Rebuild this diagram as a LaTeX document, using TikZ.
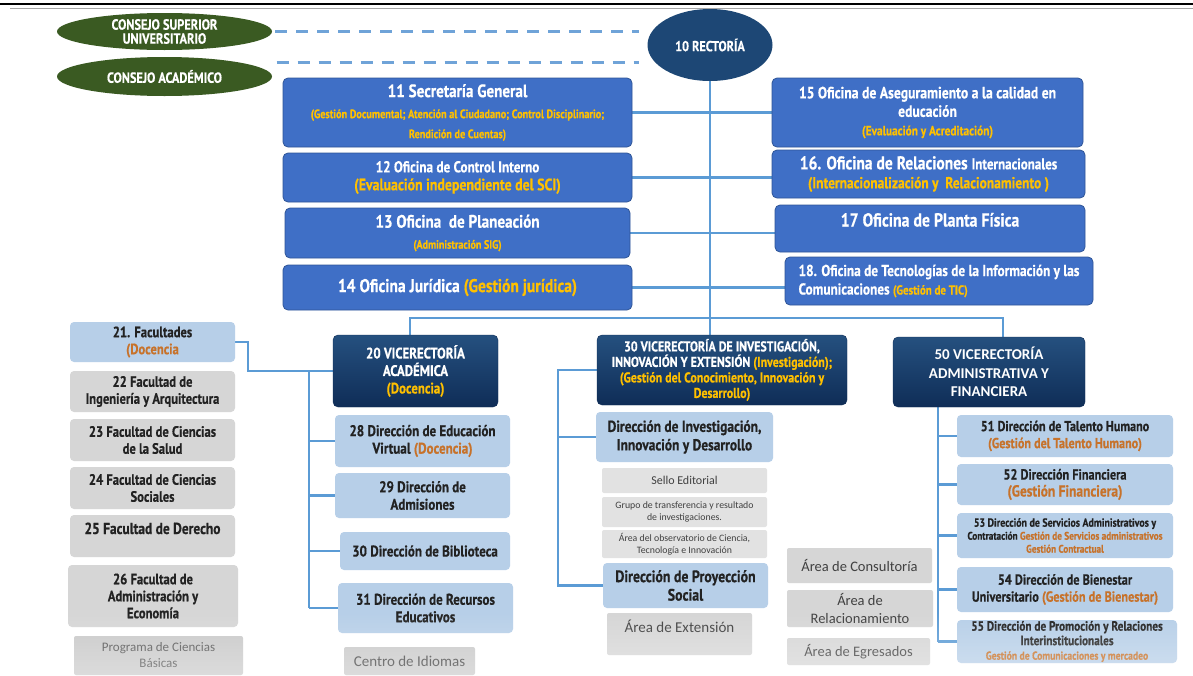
\documentclass[tikz,border=0pt]{standalone}
\usepackage{fontspec}
\setmainfont{PT Sans}
\newfontfamily\cf{PT Sans}[FakeStretch=0.84, BoldFeatures={FakeBold=0.5}]
\newfontfamily\calfont{Carlito}
\usetikzlibrary{shapes.geometric,fadings}
\newcommand{\fsz}[2]{\fontsize{#1}{#2}\selectfont}
\definecolor{ublue}{HTML}{3F6FC6}
\definecolor{ubluedk}{HTML}{2F5597}
\definecolor{navyt}{HTML}{25507F}
\definecolor{navyb}{HTML}{0F2D57}
\definecolor{navyR}{HTML}{1D4775}
\definecolor{lblue}{HTML}{B7CFE8}
\definecolor{gray1}{HTML}{D6D6D6}
\definecolor{gray2}{HTML}{E2E2E2}
\definecolor{gray3}{HTML}{C9C9C9}
\definecolor{dtext}{HTML}{222222}
\definecolor{ctext}{HTML}{404040}
\definecolor{olivec}{HTML}{3A5A22}
\definecolor{conn}{HTML}{5B9BD5}
\definecolor{conn2}{HTML}{6FA3D8}
\definecolor{yel}{HTML}{FFC000}
\definecolor{org}{HTML}{C7722A}
\pgfdeclarelayer{bg}
\pgfsetlayers{bg,main}
\tikzfading[name=fadeup, top color=transparent!100, bottom color=transparent!0]
\begin{document}
\begin{tikzpicture}[x=1pt,y=-1pt,
  wh/.style 2 args={minimum width=#1pt, minimum height=#2pt},
  ub/.style={rectangle, rounded corners=5pt, fill=ublue, draw=ubluedk, line width=0.8pt, text=white, align=center, inner sep=1pt, font=\cf\bfseries\fsz{15}{17}},
  nv/.style={rectangle, rounded corners=5pt, top color=navyt, bottom color=navyb, draw=navyb, text=white, align=center, inner sep=1pt, font=\cf\bfseries\fsz{12.5}{14.5}},
  lb/.style={rectangle, rounded corners=4pt, fill=lblue, text=dtext, align=center, inner sep=1pt, font=\cf\bfseries\fsz{15.5}{17.5}},
  gb/.style={rectangle, rounded corners=4pt, fill=gray1, text=dtext, align=center, inner sep=1pt, font=\cf\bfseries\fsz{15}{17}},
  lg/.style={rectangle, rounded corners=2pt, fill=gray2, text=ctext, align=center, inner sep=1pt, font=\calfont\fsz{14.5}{17}},
  el/.style={ellipse, fill=olivec, text=white, align=center, inner sep=0pt, font=\cf\bfseries\fsz{14.7}{14}},
  con/.style={draw=conn, line width=2.3pt},
  dsh/.style={draw=conn2, line width=2.5pt, dash pattern=on 12pt off 9pt},
]
\useasboundingbox (0,0) rectangle (1193,675);
\begin{pgfonlayer}{bg}
\fill[white] (0,0) rectangle (1193,675);
\end{pgfonlayer}
\draw[line width=2.5pt] (0,4) -- (1193,4);
\draw[gray!70, line width=0.8pt] (10,8) -- (1193,8);

\coordinate (busL) at (410,318);
\coordinate (busR) at (1003,318);
\coordinate (vA) at (309,0);
\coordinate (vB) at (558,0);
\coordinate (vC) at (938,0);

% ellipses
\node[el, wh={215}{37}] (eCSU) at (164.5,31.5) {CONSEJO SUPERIOR\\UNIVERSITARIO};
\node[el, wh={215}{39}] (eCA) at (164.5,76.5) {CONSEJO ACADÉMICO};
\node[el, fill=navyR, wh={125}{72}, font=\cf\bfseries\fsz{14.5}{16}] (eR) at (710,45) {10 RECTORÍA};

% upper left
\node[ub, wh={349}{69}, font=\cf\bfseries\fsz{18}{20}] (n11) at (457.5,112.5) {11 Secretaría General\\[1pt]{\fsz{12.2}{14}\textcolor{yel}{(Gestión Documental; Atención al Ciudadano; Control Disciplinario;}}\\{\fsz{12.2}{14}\textcolor{yel}{Rendición de Cuentas)}}};
\node[ub, wh={349}{49}, font=\cf\bfseries\fsz{15.7}{18}] (n12) at (457.5,177.5) {12 Oficina de Control Interno\\{\fsz{16.5}{18}\textcolor{yel}{(Evaluación independiente del SCI)}}};
\node[ub, wh={345}{50}, font=\cf\bfseries\fsz{18}{19}] (n13) at (457.5,233) {13 Oficina ~de Planeación\\[2pt]{\fsz{12}{13}\textcolor{yel}{(Administración SIG)}}};
\node[ub, wh={349}{45}, font=\cf\bfseries\fsz{18.5}{20}] (n14) at (457.5,287.5) {14 Oficina Jurídica \textcolor{yel}{(Gestión jurídica)}};

% upper right
\node[ub, wh={311}{69}, font=\cf\bfseries\fsz{16.3}{18.5}] (n15) at (927.5,112.5) {15 Oficina de Aseguramiento a la calidad en\\educación\\{\fsz{13.5}{15}\textcolor{yel}{(Evaluación y Acreditación)}}};
\node[ub, wh={313}{48}, font=\cf\bfseries\fsz{18.5}{19}] (n16) at (928.5,174) {16. Oficina de Relaciones {\fsz{15.5}{17}Internacionales}\\{\fsz{16}{18}\textcolor{yel}{(Internacionalización y ~Relacionamiento )}}};
\node[ub, wh={310}{47}, font=\cf\bfseries\fsz{18.8}{20}, text height=13pt, text depth=17pt] (n17) at (930,228.5) {17 Oficina de Planta Física};
\node[ub, wh={308}{48}, align=left, font=\cf\bfseries\fsz{15.8}{18.5}] (n18) at (939,281) {18. Oficina de Tecnologías de la Información y las\\Comunicaciones {\fsz{13}{15}\textcolor{yel}{(Gestión de TIC)}}};

% vicerectorias
\node[nv, wh={165}{72}, font=\cf\bfseries\fsz{15.3}{17.5}] (n20) at (415.5,371) {20 VICERECTORÍA\\ACADÉMICA\\\textcolor{yel}{(Docencia)}};
\node[nv, wh={250}{70}, font=\cf\bfseries\fsz{14.2}{15.5}] (n30) at (722,370) {30 VICERECTORÍA DE INVESTIGACIÓN,\\INNOVACIÓN Y EXTENSIÓN \textcolor{yel}{(Investigación);}\\\textcolor{yel}{(Gestión del Conocimiento, Innovación y}\\\textcolor{yel}{Desarrollo)}};
\node[nv, wh={192}{70}, font=\calfont\bfseries\fsz{15}{18.5}] (n50) at (989,372) {50 VICERECTORÍA\\ADMINISTRATIVA Y\\FINANCIERA};

% left column
\node[lb, wh={165}{40}, font=\cf\bfseries\fsz{15}{17}] (n21) at (152.5,342) {21. Facultades\\\textcolor{org}{(Docencia}};
\node[gb, wh={165}{41}] (n22) at (152.5,391.5) {22 Facultad de\\Ingeniería y Arquitectura};
\node[gb, wh={165}{42}] (n23) at (152.5,440) {23 Facultad de Ciencias\\de la Salud};
\node[gb, wh={165}{42}] (n24) at (152.5,488) {24 Facultad de Ciencias\\Sociales};
\node[gb, wh={165}{42}, font=\cf\bfseries\fsz{16}{18}, text height=12pt, text depth=16pt] (n25) at (152.5,536) {25 Facultad de Derecho};
\node[gb, wh={170}{62}] (n26) at (153,596) {26 Facultad de\\Administración y\\Economía};
\node[lg, fill=gray3, wh={169}{39}, text=ctext!90, font=\calfont\fsz{13}{16}] (nPCB) at (158.5,655.5) {Programa de Ciencias\\Básicas};

% academica column
\node[lb, wh={175}{52}] (n28) at (422.5,441) {28 Dirección de Educación\\Virtual \textcolor{org}{(Docencia)}};
\node[lb, wh={175}{45}] (n29) at (422.5,495.5) {29 Dirección de\\Admisiones};
\node[lb, wh={170}{38}] (n30b) at (425,551) {30 Dirección de Biblioteca};
\node[lb, wh={175}{50}] (n31) at (425.5,608) {31 Dirección de Recursos\\Educativos};
\node[lg, fill=gray3, wh={131}{28}, font=\calfont\fsz{15}{17}] (nCI) at (409.5,661) {Centro de Idiomas};

% investigacion column
\node[lb, wh={177}{50}, font=\cf\bfseries\fsz{16}{18.5}] (nDI) at (684.5,437) {Dirección de Investigación,\\Innovación y Desarrollo};
\node[lg, wh={165}{25}, font=\calfont\fsz{12}{14}] (nSE) at (684.5,480.5) {Sello Editorial};
\node[lg, wh={165}{30}, font=\calfont\fsz{9.8}{11.5}] (nGT) at (684.5,512) {Grupo de transferencia y resultado\\de investigaciones.};
\node[lg, wh={165}{28}, font=\calfont\fsz{9.8}{11.5}] (nAO) at (684.5,544) {Área del observatorio de Ciencia,\\Tecnología e Innovación};
\node[lb, wh={165}{45}, font=\cf\bfseries\fsz{16.5}{18.5}] (nDP) at (685.5,585.5) {Dirección de Proyección\\Social};
\node[lg, fill=gray1, wh={145}{42}, font=\calfont\fsz{15}{17}, text height=11pt, text depth=15pt] (nAE) at (679.5,634) {Área de Extensión};
\node[lg, fill=gray1, wh={145}{35}] (nAC) at (859.5,565.5) {Área de Consultoría};
\node[lg, fill=gray1, wh={146}{37}, font=\calfont\fsz{14.5}{18}] (nAR) at (860,608.5) {Área de\\Relacionamiento};
\node[lg, fill=gray1, wh={143}{27}] (nAEg) at (858.5,651.5) {Área de Egresados};

% administrativa column
\node[lb, wh={216}{42}, font=\cf\bfseries\fsz{14.4}{17}] (n51) at (1065,436) {51 Dirección de Talento Humano\\\textcolor{org}{(Gestión del Talento Humano)}};
\node[lb, wh={216}{41}, font=\cf\bfseries\fsz{14.6}{17}] (n52) at (1065,484.5) {52 Dirección Financiera\\{\fsz{16}{17}\textcolor{org}{(Gestión Financiera)}}};
\node[lb, wh={216}{45}, font=\cf\bfseries\fsz{11.8}{13}] (n53) at (1065,535.5) {53 Dirección de Servicios Administrativos y\\{\fsz{11}{13}Contratación \textcolor{org}{Gestión de Servicios administrativos}}\\{\fsz{11}{13}\textcolor{org}{Gestión Contractual}}};
\node[lb, wh={216}{45}, font=\cf\bfseries\fsz{14.6}{17}] (n54) at (1065,589.5) {54 Dirección de Bienestar\\Universitario \textcolor{org}{(Gestión de Bienestar)}};
\node[lb, wh={220}{43}, font=\cf\bfseries\fsz{13.4}{14.5}] (n55) at (1067,641.5) {55 Dirección de Promoción y Relaciones\\Interinstitucionales\\{\fsz{11.5}{12.5}\textcolor{org}{Gestión de Comunicaciones y mercadeo}}};

\begin{pgfonlayer}{bg}
\draw[dsh, shorten <=3pt, shorten >=8pt] (eCSU.east) -- (eCSU.east -| eR.west);
\draw[dsh, shorten <=36pt, shorten >=8pt] (eCA.north east) -- (eCA.north east -| eR.west);
\draw[con] (eR.south) -- (eR.south |- n30.north);
\draw[con] (n11.east) -- (n11.east -| n15.west);
\draw[con] (n12.east) -- (n12.east -| n16.west);
\draw[con] (n13.east) -- (n13.east -| n17.west);
\draw[con] (n14.east) -- (n14.east -| n18.west);
\draw[con] (busL |- n20.north) -- (busL) -- (busR) -- (busR |- n50.north);
\draw[con] (n21.east) -- ++(13,0) |- (n20.west);
\draw[con] (vA |- n20.west) -- (vA |- n31.west);
\foreach \n in {n28,n29,n30b,n31} \draw[con] (vA |- \n.west) -- (\n.west);
\draw[con] (n30.west) -| (vB |- nDP.west) -- (nDP.west);
\draw[con] (vB |- nDI.west) -- (nDI.west);
\draw[con] (vC |- n50.south) -- (vC |- n55.west);
\foreach \n in {n51,n52,n53,n54,n55} \draw[con] (vC |- \n.west) -- (\n.west);
\end{pgfonlayer}

\fill[white, path fading=fadeup, opacity=0.35] (0,612) rectangle (1193,675);
\end{tikzpicture}
\end{document}
